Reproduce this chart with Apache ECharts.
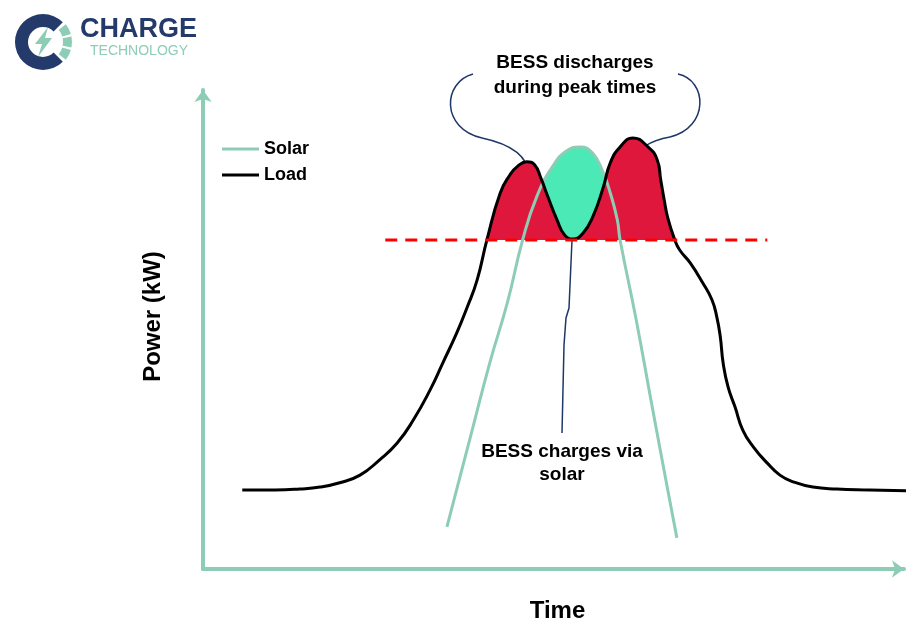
<!DOCTYPE html>
<html>
<head>
<meta charset="utf-8">
<title>BESS peak shaving</title>
<script src="https://cdn.jsdelivr.net/npm/echarts@6/dist/echarts.min.js"></script>
<style>
  html, body { margin: 0; padding: 0; background: #fff; }
  #chart { width: 924px; height: 627px; }
</style>
</head>
<body>
<div id="chart"></div>
<script>
// daily load profile, [time, power] in axis units (0-100)
var load = [
  [5.6, 16.5], [10.3, 16.5], [13.8, 16.7], [16.7, 17.1], [19.5, 18.0],
  [22.4, 19.6], [25.2, 22.8], [27.7, 26.3], [30.0, 31.1], [32.4, 37.4],
  [34.2, 43.0], [36.2, 49.3], [37.7, 54.7], [39.1, 60.3], [40.5, 68.7],
  [42.4, 78.5], [43.8, 82.3], [44.9, 84.1], [46.2, 85.0], [47.3, 84.4],
  [48.2, 81.6], [49.2, 77.7], [50.5, 72.9], [51.6, 69.7], [52.8, 68.9],
  [54.2, 70.1], [55.6, 73.5], [57.1, 79.7], [58.1, 84.8], [59.5, 88.1],
  [61.3, 90.0], [63.5, 88.1], [64.8, 85.4], [65.3, 81.2], [65.8, 77.0],
  [66.3, 73.3], [67.3, 68.7], [68.0, 66.6], [69.5, 63.9], [71.3, 59.7],
  [72.6, 56.2], [73.3, 52.6], [73.8, 48.4], [74.2, 43.0], [74.9, 38.0],
  [75.9, 33.8], [77.0, 29.0], [78.5, 25.5], [80.5, 22.1], [82.3, 19.6],
  [84.2, 18.2], [87.0, 17.1], [90.4, 16.7], [95.1, 16.5], [100.6, 16.3]
]
// solar generation
var solar = [
  [34.8, 8.8], [38.1, 27.3], [40.9, 43.0], [43.4, 55.5], [45.6, 68.7],
  [47.6, 77.7], [49.9, 84.1], [51.9, 87.3], [53.8, 88.1], [55.6, 86.8],
  [57.1, 82.7], [58.1, 78.5], [59.1, 72.9], [59.5, 68.7], [61.8, 52.0],
  [63.9, 35.3], [66.3, 16.5], [67.6, 6.5]
]
// peak-shaving threshold
var threshold = 68.7
var thresholdX = [26.0, 80.5]

var navy = '#233A6B'
var teal = '#8DCDB6'
var arrowColor = '#1F3766'
var font = '"Liberation Sans", Arial, sans-serif'

var chart = echarts.init(document.getElementById('chart'))

var aboveThreshold = function (p) { return p[1] >= threshold }

var axisCommon = {
  type: 'value',
  min: 0,
  max: 100,
  nameLocation: 'middle',
  axisLine: {
    lineStyle: { color: teal, width: 4 },
    symbol: ['none', 'arrow'],
    symbolSize: [13, 12]
  },
  axisTick: { show: false },
  axisLabel: { show: false },
  splitLine: { show: false }
}

var option = {
  animation: false,
  backgroundColor: '#fff',
  grid: {
    left: 203,
    right: 20,
    top: 90,
    bottom: 58,
    outerBoundsMode: 'none'
  },
  legend: {
    data: ['Solar', 'Load'],
    orient: 'vertical',
    left: 217,
    top: 135,
    icon: 'rect',
    itemWidth: 37,
    itemHeight: 3,
    itemGap: 8,
    textStyle: {
      fontFamily: font,
      fontSize: 18,
      fontWeight: 'bold',
      color: '#000'
    }
  },
  xAxis: Object.assign({}, axisCommon, {
    name: 'Time',
    nameGap: 30,
    nameTextStyle: { fontFamily: font, fontSize: 24, fontWeight: 'bold', color: '#000', padding: [0, 0, 0, 8] }
  }),
  yAxis: Object.assign({}, axisCommon, {
    name: 'Power (kW)',
    nameGap: 38,
    nameTextStyle: { fontFamily: font, fontSize: 24, fontWeight: 'bold', color: '#000', padding: [0, 0, 0, 26] }
  }),
  series: [
    {
      // solar surplus (charging) - covered by the red fill wherever load is higher
      name: 'solarFill',
      type: 'line',
      data: solar.filter(aboveThreshold),
      smooth: 0.5,
      symbol: 'none',
      silent: true,
      lineStyle: { width: 0 },
      areaStyle: { color: '#4BE9B5', opacity: 1, origin: threshold },
      z: 1
    },
    {
      // load above threshold (discharging)
      name: 'peakFill',
      type: 'line',
      data: load.filter(aboveThreshold),
      smooth: 0.5,
      symbol: 'none',
      silent: true,
      lineStyle: { width: 0 },
      areaStyle: { color: '#E0173C', opacity: 1, origin: threshold },
      z: 2
    },
    {
      name: 'Solar',
      type: 'line',
      data: solar,
      smooth: 0.5,
      symbol: 'none',
      color: teal,
      lineStyle: { color: teal, width: 3 },
      z: 3
    },
    {
      name: 'Load',
      type: 'line',
      data: load,
      smooth: 0.5,
      symbol: 'none',
      clip: false,
      color: '#000',
      lineStyle: { color: '#000', width: 3 },
      z: 4
    },
    {
      name: 'threshold',
      type: 'line',
      data: [[thresholdX[0], threshold], [thresholdX[1], threshold]],
      symbol: 'none',
      silent: true,
      lineStyle: { color: '#FF0000', width: 3, type: [12, 8] },
      z: 5
    }
  ],
  graphic: [
    // logo
    {
      type: 'sector',
      shape: { cx: 43, cy: 42, r: 28, r0: 15, startAngle: Math.PI / 4, endAngle: Math.PI * 7 / 4 },
      style: { fill: navy }
    },
    {
      type: 'sector',
      shape: { cx: 43, cy: 42, r: 29, r0: 20, startAngle: -38 * Math.PI / 180, endAngle: -16 * Math.PI / 180 },
      style: { fill: teal }
    },
    {
      type: 'sector',
      shape: { cx: 43, cy: 42, r: 29, r0: 20, startAngle: -11 * Math.PI / 180, endAngle: 11 * Math.PI / 180 },
      style: { fill: teal }
    },
    {
      type: 'sector',
      shape: { cx: 43, cy: 42, r: 29, r0: 20, startAngle: 16 * Math.PI / 180, endAngle: 38 * Math.PI / 180 },
      style: { fill: teal }
    },
    {
      type: 'polygon',
      shape: { points: [[48, 27], [35, 44], [42, 44], [38, 57], [52, 38], [45, 38]] },
      style: { fill: teal }
    },
    {
      type: 'text',
      x: 80,
      y: 30,
      style: { text: 'CHARGE', fill: navy, font: 'bold 27px ' + font, verticalAlign: 'middle' }
    },
    {
      type: 'text',
      x: 139,
      y: 51,
      style: { text: 'TECHNOLOGY', fill: teal, font: '14px ' + font, align: 'center', verticalAlign: 'middle' }
    },
    // annotations
    {
      type: 'text',
      x: 575,
      y: 75,
      style: {
        text: 'BESS discharges\nduring peak times',
        fill: '#000',
        font: 'bold 19px ' + font,
        lineHeight: 25,
        align: 'center',
        verticalAlign: 'middle'
      }
    },
    {
      type: 'text',
      x: 562,
      y: 463,
      style: {
        text: 'BESS charges via\nsolar',
        fill: '#000',
        font: 'bold 19px ' + font,
        lineHeight: 23,
        align: 'center',
        verticalAlign: 'middle'
      }
    },
    {
      type: 'bezierCurve',
      shape: { x1: 473, y1: 74, cpx1: 443, cpy1: 82, cpx2: 440, cpy2: 128, x2: 482, y2: 138 },
      style: { stroke: arrowColor, lineWidth: 1.5, fill: null }
    },
    {
      type: 'bezierCurve',
      shape: { x1: 482, y1: 138, cpx1: 515, cpy1: 145, cpx2: 528, cpy2: 158, x2: 529, y2: 175 },
      style: { stroke: arrowColor, lineWidth: 1.5, fill: null }
    },
    {
      type: 'polygon',
      shape: { points: [[524, 172], [534, 172], [529, 183]] },
      style: { fill: arrowColor }
    },
    {
      type: 'bezierCurve',
      shape: { x1: 678, y1: 74, cpx1: 707, cpy1: 80, cpx2: 710, cpy2: 127, x2: 670, y2: 137 },
      style: { stroke: arrowColor, lineWidth: 1.5, fill: null }
    },
    {
      type: 'bezierCurve',
      shape: { x1: 670, y1: 137, cpx1: 648, cpy1: 141, cpx2: 637, cpy2: 150, x2: 633, y2: 161 },
      style: { stroke: arrowColor, lineWidth: 1.5, fill: null }
    },
    {
      type: 'polygon',
      shape: { points: [[638.8, 162.8], [630.2, 157.8], [630, 168]] },
      style: { fill: arrowColor }
    },
    {
      type: 'polyline',
      shape: { points: [[562, 433], [564, 345], [566, 318], [569, 308], [572, 240], [574, 203]] },
      style: { stroke: arrowColor, lineWidth: 1.5, fill: null }
    },
    {
      type: 'polygon',
      shape: { points: [[574, 194], [569, 205], [579, 205]] },
      style: { fill: arrowColor }
    }
  ]
}

chart.setOption(option)
</script>
</body>
</html>
